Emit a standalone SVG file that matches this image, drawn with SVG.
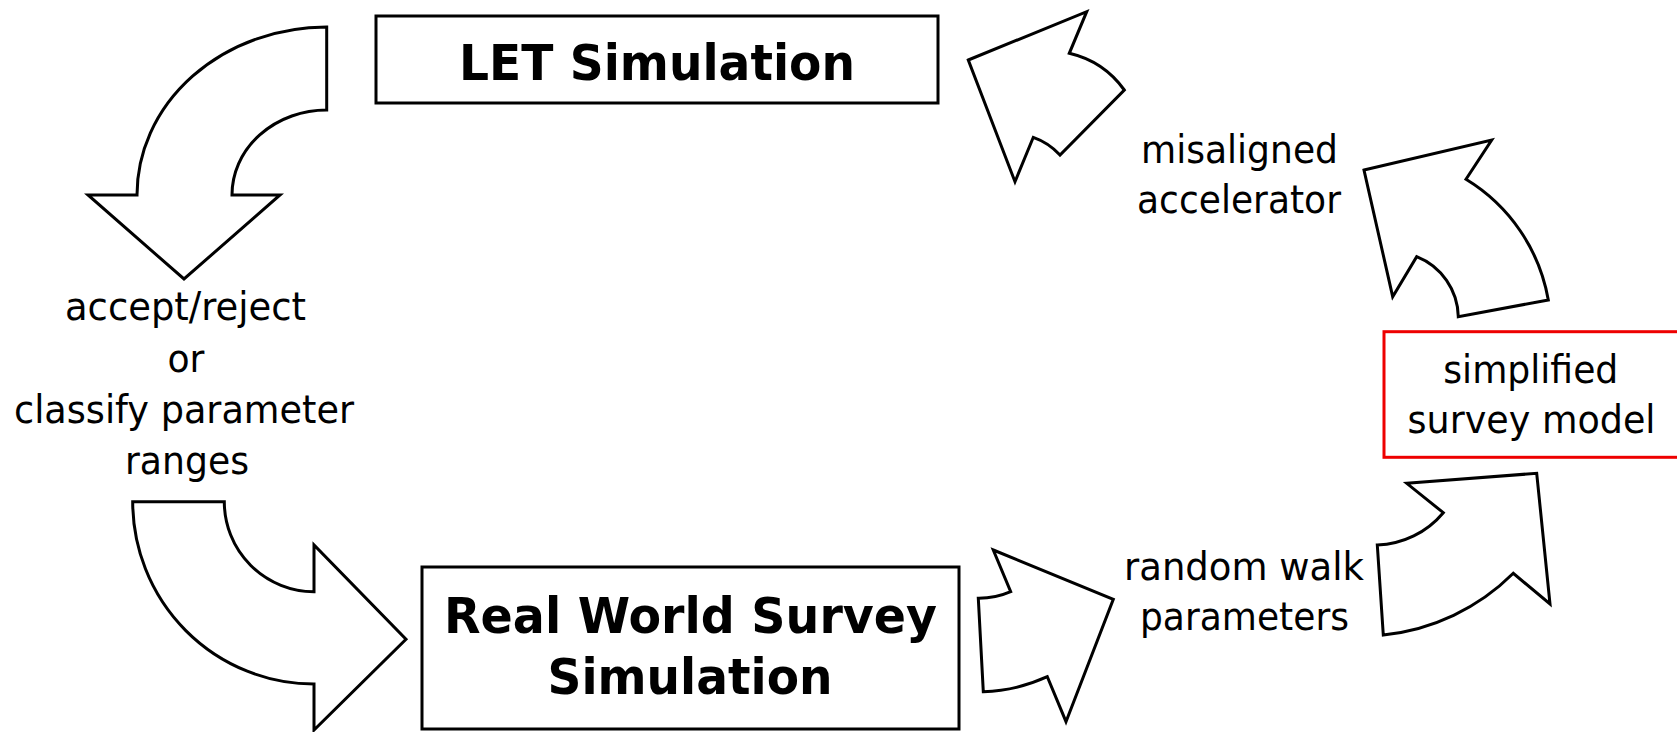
<svg xmlns="http://www.w3.org/2000/svg" width="1677" height="732" viewBox="0 0 1677 732">
  <style>
    .arrow { fill: #ffffff; stroke: #000000; stroke-width: 3; stroke-linejoin: miter; }
    .box { fill: #ffffff; stroke: #000000; stroke-width: 3; }
    .redbox { fill: #ffffff; stroke: #ee0000; stroke-width: 3; }
    .title { font-family: "DejaVu Sans", Verdana, sans-serif; font-weight: bold; font-size: 50px; fill: #000000; text-anchor: middle; }
    .label { font-family: "DejaVu Sans", Verdana, sans-serif; font-size: 39px; fill: #000000; text-anchor: middle; }
  </style>
  <rect x="0" y="0" width="1677" height="732" fill="#ffffff"/>

  <!-- curved block arrows linking the stages -->
  <g id="connectors">
    <path id="arrow-let-to-classify" class="arrow" d="M 326.7 27 A 189.7 168 0 0 0 137 195 L 88 195 L 184 279 L 280 195 L 232 195 A 94.7 85 0 0 1 326.7 110 Z"/>
    <path id="arrow-classify-to-survey" class="arrow" d="M 132.7 501.7 L 224.3 501.7 A 90 90 0 0 0 314 591.7 L 314 545 L 406 639.3 L 314 730 L 314 684 A 181.3 182.3 0 0 1 132.7 501.7 Z"/>
    <path id="arrow-survey-to-walk" class="arrow" d="M 993.3 550 L 1113.3 599.3 L 1066 721.7 L 1047.3 676.7 A 165 165 0 0 1 983.3 691.7 L 978.3 598.3 A 80 80 0 0 0 1010.7 591.7 Z"/>
    <path id="arrow-walk-to-model" class="arrow" d="M 1406.7 483.3 L 1536.7 473.3 L 1550 604 L 1513.3 573.3 A 215 215 0 0 1 1383.3 635 L 1377.3 545 A 90 90 0 0 0 1443.3 512.7 Z"/>
    <path id="arrow-model-to-accel" class="arrow" d="M 1364 170 L 1491.7 140 L 1466 179.3 A 177 177 0 0 1 1548.3 300 L 1458.3 316.7 A 66 66 0 0 0 1416.7 256.7 L 1392.7 296.7 Z"/>
    <path id="arrow-accel-to-let" class="arrow" d="M 968.3 60 L 1086.7 11.7 L 1069.3 53.3 A 94 94 0 0 1 1124.3 90 L 1060 155 A 65 65 0 0 0 1033.3 137.3 L 1015 181.7 Z"/>
  </g>

  <g id="let-simulation">
    <rect class="box" x="376" y="16" width="562" height="87"/>
    <text class="title" x="657" y="80" textLength="396" lengthAdjust="spacingAndGlyphs">LET Simulation</text>
  </g>

  <g id="real-world-survey">
    <rect class="box" x="422" y="567" width="537" height="162"/>
    <text class="title" x="690.5" y="633" textLength="493" lengthAdjust="spacingAndGlyphs">Real World Survey</text>
    <text class="title" x="690" y="694" textLength="285" lengthAdjust="spacingAndGlyphs">Simulation</text>
  </g>

  <g id="simplified-survey-model">
    <rect class="redbox" x="1384" y="331.7" width="300" height="125.6"/>
    <text class="label" x="1530.8" y="383.3" textLength="175" lengthAdjust="spacingAndGlyphs">simplified</text>
    <text class="label" x="1531.5" y="433.3" textLength="248" lengthAdjust="spacingAndGlyphs">survey model</text>
  </g>

  <g id="classify-label">
    <text class="label" x="185.5" y="320" textLength="241" lengthAdjust="spacingAndGlyphs">accept/reject</text>
    <text class="label" x="186" y="371.7" textLength="37" lengthAdjust="spacingAndGlyphs">or</text>
    <text class="label" x="184" y="423.3" textLength="340" lengthAdjust="spacingAndGlyphs">classify parameter</text>
    <text class="label" x="187" y="474" textLength="124" lengthAdjust="spacingAndGlyphs">ranges</text>
  </g>

  <g id="misaligned-label">
    <text class="label" x="1239.5" y="163.3" textLength="197" lengthAdjust="spacingAndGlyphs">misaligned</text>
    <text class="label" x="1239" y="213.3" textLength="204" lengthAdjust="spacingAndGlyphs">accelerator</text>
  </g>

  <g id="random-walk-label">
    <text class="label" x="1244" y="580" textLength="240" lengthAdjust="spacingAndGlyphs">random walk</text>
    <text class="label" x="1244.5" y="630" textLength="209" lengthAdjust="spacingAndGlyphs">parameters</text>
  </g>
</svg>
